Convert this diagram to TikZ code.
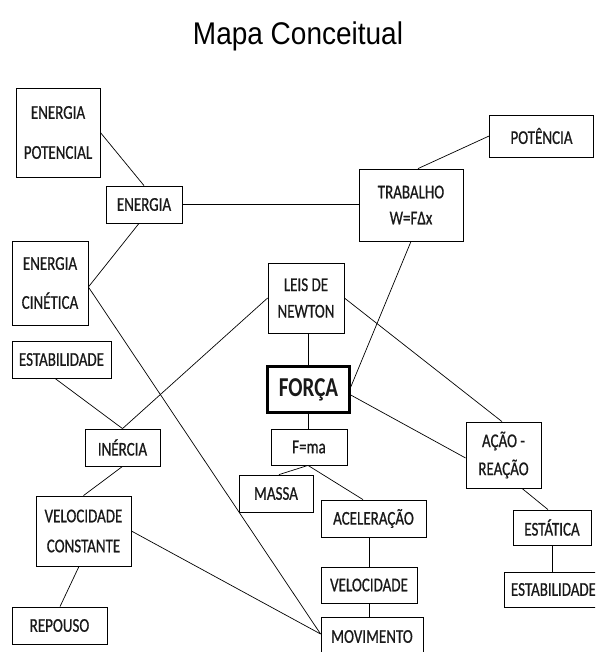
\documentclass[tikz,border=0pt]{standalone}
\usepackage{graphicx}
\usepackage{fontspec}
\setmainfont{Carlito}
\newfontfamily\boxfont[BoldFont={Carlito},BoldFeatures={FakeBold=0.8}]{Carlito}
\newfontfamily\titlefont{Liberation Sans}
\newcommand\vs[1]{\scalebox{1}[1.3]{#1}}
\begin{document}
\begin{tikzpicture}[x=1pt,y=-1pt,
  box/.style={draw, line width=0.8pt, inner sep=0pt, align=center, text=black!90,
    font=\boxfont\bfseries\fontsize{15}{26}\selectfont},
  link/.style={line width=0.7pt}]
\useasboundingbox (0,0) rectangle (595,652);
\fill[white] (0,0) rectangle (595,652);
\clip (0,0) rectangle (595,652);

\node[font=\titlefont\fontsize{28}{30}\selectfont] (title) at (298,36) {\scalebox{1}[1.12]{Mapa Conceitual}};

\node[box, minimum width=84pt, minimum height=89pt, font=\boxfont\bfseries\fontsize{15}{40}\selectfont] (pot) at (58,132.5) {\vs{ENERGIA}\\\vs{POTENCIAL}};
\node[box, minimum width=76pt, minimum height=37pt] (en) at (144,204.5) {\vs{ENERGIA}};
\node[box, minimum width=76pt, minimum height=84pt, font=\boxfont\bfseries\fontsize{15}{39}\selectfont] (cin) at (50,283) {\vs{ENERGIA}\\\vs{CINÉTICA}};
\node[box, minimum width=76pt, minimum height=70pt, font=\boxfont\bfseries\fontsize{15}{26.5}\selectfont] (leis) at (306,298) {\vs{LEIS DE}\\\vs{NEWTON}};
\node[box, minimum width=104pt, minimum height=72pt, font=\boxfont\bfseries\fontsize{15}{26}\selectfont] (trab) at (411,205) {\vs{TRABALHO}\\\vs{W=FΔx}};
\node[box, minimum width=104pt, minimum height=42pt] (potn) at (541.5,136) {\vs{POTÊNCIA}};
\node[box, minimum width=99pt, minimum height=37pt] (est1) at (61.5,359.5) {\vs{ESTABILIDADE}};
\node[box, line width=2.5pt, minimum width=82pt, minimum height=46pt, font=\bfseries\fontsize{21}{24}\selectfont] (forca) at (308.5,389.5) {\vs{FORÇA}};
\node[box, minimum width=76pt, minimum height=36pt] (fma) at (309,447) {\vs{F=ma}};
\node[box, minimum width=75pt, minimum height=37pt] (inercia) at (122.5,447.5) {\vs{INÉRCIA}};
\node[box, minimum width=74pt, minimum height=37pt] (massa) at (276,493.5) {\vs{MASSA}};
\node[box, minimum width=95pt, minimum height=70pt, font=\boxfont\bfseries\fontsize{15}{30}\selectfont] (velc) at (83.5,531) {\vs{VELOCIDADE}\\\vs{CONSTANTE}};
\node[box, minimum width=95pt, minimum height=37pt] (rep) at (59.5,625.5) {\vs{REPOUSO}};
\node[box, minimum width=105pt, minimum height=37pt] (acel) at (373.5,518.5) {\vs{ACELERAÇÃO}};
\node[box, minimum width=96pt, minimum height=36pt] (vel) at (369,585) {\vs{VELOCIDADE}};
\node[box, minimum width=102pt, minimum height=39pt] (mov) at (372,636.5) {\vs{MOVIMENTO}};
\node[box, minimum width=75pt, minimum height=66pt, font=\boxfont\bfseries\fontsize{15}{28}\selectfont] (acao) at (503.5,455) {\vs{AÇÃO -}\\\vs{REAÇÃO}};
\node[box, minimum width=78pt, minimum height=35pt] (estat) at (552,527.5) {\vs{ESTÁTICA}};
\node[box, minimum width=99pt, minimum height=35pt] (est2) at (553.5,589.5) {\vs{ESTABILIDADE}};

% connectors
\draw[link] (pot.east) -- (en.north);
\draw[link] ([xshift=-5pt]en.south) -- ([yshift=-4pt]cin.east);
\draw[link] (en.east) -- (en.east -| trab.west);
\draw[link] ([xshift=7pt]trab.north) -- (potn.west);
\draw[link] (trab.south) -- ([yshift=2.5pt]forca.east);
\draw[link] (forca.north) -- (forca.north |- leis.south);
\draw[link] (leis.west) -- (inercia.north);
\draw[link] (leis.east) -- ([xshift=-1.5pt]acao.north);
\draw[link] ([yshift=-5.5pt]forca.east) -- ([yshift=-3pt]acao.west);
\draw[link] (forca.south) -- (forca.south |- fma.north);
\draw[link] ([xshift=-1pt]fma.south) -- ([xshift=3pt]massa.north);
\draw[link] ([xshift=-1pt]fma.south) -- ([xshift=-10.5pt]acel.north);
\draw[link] (vel.north) -- (vel.north |- acel.south);
\draw[link] (vel.south) -- (vel.south |- mov.north);
\draw[link] ([yshift=-4pt]cin.east) -- ([yshift=2.5pt]mov.west);
\draw[link] ([xshift=-6.5pt]est1.south) -- (inercia.north);
\draw[link] (inercia.south) -- (velc.north);
\draw[link] (velc.east) -- ([yshift=2.5pt]mov.west);
\draw[link] ([xshift=-4.5pt]velc.south) -- ([xshift=0.5pt]rep.north);
\draw[link] ([xshift=18.5pt]acao.south) -- ([xshift=-4pt]estat.north);
\draw[link] (estat.south) -- (estat.south |- est2.north);
\end{tikzpicture}
\end{document}
